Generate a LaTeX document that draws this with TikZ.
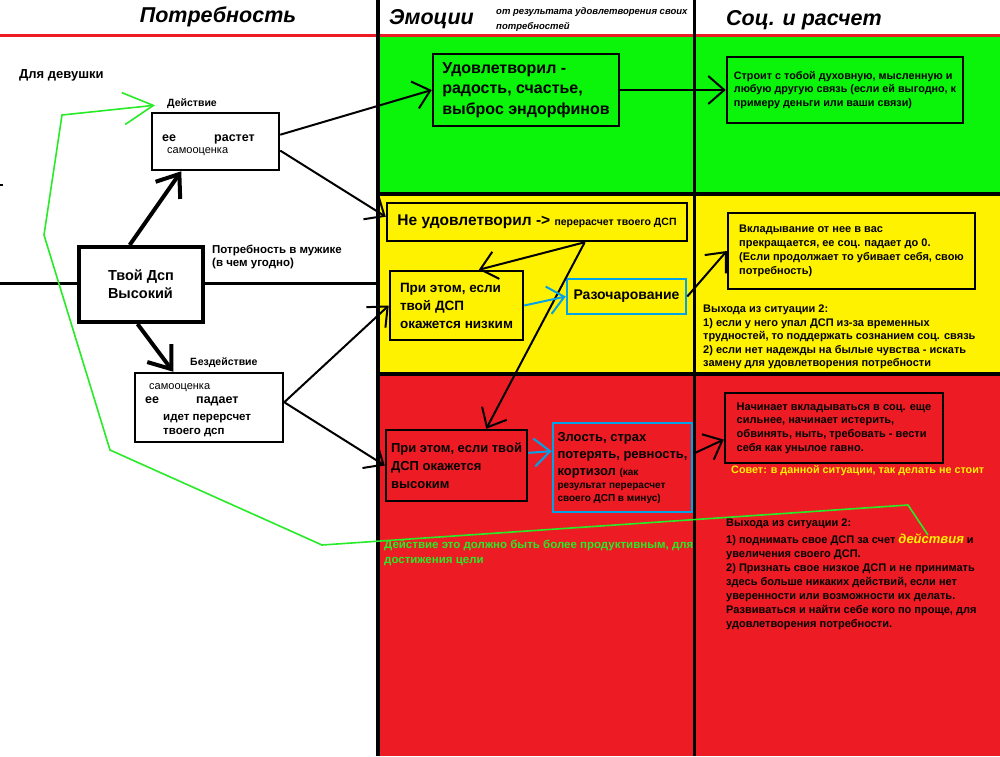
\documentclass[tikz,border=0pt]{standalone}
\usepackage{fontspec}
\setmainfont{Liberation Sans}
\usetikzlibrary{arrows.meta}
\definecolor{zelen}{RGB}{10,245,10}
\definecolor{zhelt}{RGB}{255,242,0}
\definecolor{krasn}{RGB}{237,28,36}
\definecolor{goluboj}{RGB}{0,162,232}
\definecolor{zelLin}{RGB}{40,235,40}
\newcommand{\shrift}[2]{\fontsize{#1}{#2}\selectfont}

\begin{document}
\begin{tikzpicture}[x=1pt, y=-1pt,
    kvadrat/.style={draw, line width=2.5pt, inner sep=0pt, align=left},
    sinij/.style={kvadrat, draw=goluboj},
    nadpis/.style={inner sep=0pt, align=left},
    zagolovok/.style={inner sep=0pt, font=\bfseries\itshape\shrift{21.5}{24}},
    strelka/.style={line width=2pt, -{Straight Barb[length=16pt,width=28pt]}},
    tolstaja/.style={line width=4pt, -{Straight Barb[length=20pt,width=30pt]}},
    golubaja/.style={strelka, draw=goluboj},
    zelenaja/.style={line width=1.6pt, draw=zelLin, -{Straight Barb[length=30pt,width=32pt]}},
    liniya/.style={line width=3pt}]
    \useasboundingbox (0,0) rectangle (1000,756);

    % Фон колонок
    \fill[white] (0,0) rectangle (1000,756);
    \fill[zelen] (378,36) rectangle (1000,193);
    \fill[zhelt] (378,193) rectangle (1000,374);
    \fill[krasn] (378,374) rectangle (1000,756);
    \draw[krasn, line width=3pt] (0,35) -- (1000,35);
    \draw[line width=4pt] (378,193.5) -- (1000,193.5);
    \draw[line width=4pt] (378,374) -- (1000,374);
    \draw[line width=3.5pt] (378,0) -- (378,756);
    \draw[line width=3pt] (694,0) -- (694,756);
    \draw[line width=2pt] (0,185) -- (3,185);

    % Заголовки
    \node[zagolovok] (zagPotr) at (218,17) {Потребность};
    \node[zagolovok, anchor=west] (zagEmo) at (389,19) {Эмоции};
    \node[nadpis, anchor=west, font=\bfseries\itshape\shrift{9.5}{15}] (zagEmoPod) at (496,19.5) {от результата удовлетворения своих\\потребностей};
    \node[zagolovok, anchor=west] (zagSoc) at (726,20) {Соц. и расчет};

    % Потребность
    \node[nadpis, anchor=west, font=\bfseries\shrift{13}{15}] (devushki) at (19,75) {Для девушки};
    \node[nadpis, anchor=west, font=\bfseries\shrift{10.5}{12}] (deistv) at (167,104) {Действие};
    \node[kvadrat, minimum width=127, minimum height=57] (rastet) at (215.5,141.5) {};
    \node[nadpis, anchor=base west, font=\bfseries\shrift{12.5}{14}] (ee1) at (162,141) {ее};
    \node[nadpis, anchor=base west, font=\bfseries\shrift{12.5}{14}] (rost) at (214,141) {растет};
    \node[nadpis, anchor=base west, font=\shrift{11}{13}] (samo1) at (167,153) {самооценка};

    \node[kvadrat, line width=4pt, minimum width=124, minimum height=75, font=\bfseries\shrift{14.5}{18}] (dsp) at (141,284.5) {Твой Дсп\\Высокий};
    \node[nadpis, anchor=west, font=\bfseries\shrift{11.5}{13.5}] (muzhik) at (212,257) {Потребность в мужике\\(в чем угодно)};
    \coordinate (kraiL) at (0,283);
    \coordinate (kolonka) at (378,283);
    \draw[liniya] (kraiL) -- (dsp.west |- kraiL);
    \draw[liniya] (dsp.east |- kolonka) -- (kolonka);

    \node[nadpis, anchor=west, font=\bfseries\shrift{10.5}{12}] (bezdeistv) at (190,363) {Бездействие};
    \node[kvadrat, minimum width=148, minimum height=69] (bezd) at (209,407.5) {};
    \node[nadpis, anchor=base west, font=\shrift{11}{13}] (samo2) at (149,389) {самооценка};
    \node[nadpis, anchor=base west, font=\bfseries\shrift{12.5}{14}] (ee2) at (145,403) {ее};
    \node[nadpis, anchor=base west, font=\bfseries\shrift{12.5}{14}] (padaet) at (196,403) {падает};
    \node[nadpis, anchor=west, font=\bfseries\shrift{11.5}{14}] (pereschet) at (163,426) {идет перерсчет\\твоего дсп};

    \draw[tolstaja] (dsp.106) -- (rastet.221);
    \draw[tolstaja] (dsp.265) -- (bezd.135);

    % Эмоции
    \node[kvadrat, minimum width=186, minimum height=72, font=\bfseries\shrift{16}{20.5}] (udovl) at (526,90) {Удовлетворил -\\радость, счастье,\\выброс эндорфинов};
    \node[kvadrat, minimum width=300, minimum height=38, font=\bfseries\shrift{15.5}{18}] (neudovl) at (537,222) {Не удовлетворил -> {\shrift{10.5}{12}перерасчет твоего ДСП}};
    \node[kvadrat, minimum width=133, minimum height=69, font=\bfseries\shrift{13.5}{18}] (nizk) at (456.5,305.5) {При этом, если\\твой ДСП\\окажется низким};
    \node[sinij, minimum width=119, minimum height=35, font=\bfseries\shrift{14}{16}] (razoch) at (626.5,296.5) {Разочарование};
    \node[kvadrat, minimum width=141, minimum height=71, font=\bfseries\shrift{13}{18}] (vysok) at (456.5,465.5) {При этом, если твой\\ДСП окажется\\высоким};
    \node[sinij, minimum width=139, minimum height=89, font=\bfseries\shrift{13}{17}] (zlost) at (622.5,467.5) {Злость, страх\\потерять, ревность,\\кортизол {\shrift{10}{12}(как}\\[-4pt]{\shrift{10}{12}результат перерасчет}\\[-4pt]{\shrift{10}{12}своего ДСП в минус)}};
    \node[nadpis, anchor=west, text=zelLin, font=\bfseries\shrift{11.5}{15}] (sovetZel) at (384,552.5) {Действие это должно быть более продуктивным, для\\достижения цели};

    \draw[strelka] (rastet.6) -- (udovl.west);
    \draw[strelka] (rastet.-8) -- (neudovl.178);
    \draw[strelka] (bezd.4) -- (nizk.west);
    \draw[strelka] (bezd.4) -- (vysok.west);
    \draw[strelka] (neudovl.-23) -- (nizk.58);
    \draw[strelka] (neudovl.-23) -- (vysok.51);
    \draw[golubaja] (nizk.east) -- (razoch.west);
    \draw[golubaja] (vysok.10) -- (zlost.167);

    % Соц. и расчет
    \node[kvadrat, minimum width=236, minimum height=66, font=\bfseries\shrift{10.8}{13.3}] (stroit) at (845,90) {Строит с тобой духовную, мысленную и\\любую другую связь (если ей выгодно, к\\примеру деньги или ваши связи)};
    \node[kvadrat, minimum width=247, minimum height=76, font=\bfseries\shrift{11}{13.8}] (vklad) at (851.5,251) {Вкладывание от нее в вас\\прекращается, ее соц. падает до 0.\\(Если продолжает то убивает себя, свою\\потребность)};
    \node[nadpis, anchor=west, font=\bfseries\shrift{11}{13.5}] (vyhod1) at (703,337) {Выхода из ситуации 2:\\1) если у него упал ДСП из-за временных\\трудностей, то поддержать сознанием соц. связь\\2) если нет надежды на былые чувства - искать\\замену для удовлетворения потребности};
    \node[kvadrat, minimum width=218, minimum height=70, font=\bfseries\shrift{11}{13.7}] (nach) at (834,428) {Начинает вкладываться в соц. еще\\сильнее, начинает истерить,\\обвинять, ныть, требовать - вести\\себя как унылое гавно.};
    \node[nadpis, anchor=west, text=zhelt, font=\bfseries\shrift{10.8}{13}] (sovet) at (731,471) {Совет: в данной ситуации, так делать не стоит};
    \node[nadpis, anchor=west, font=\bfseries\shrift{11}{14}] (vyhod2) at (726,574.5) {Выхода из ситуации 2:\\[3pt]1) поднимать свое ДСП за счет {\color{zhelt}\itshape\shrift{13}{14}действия} и\\увеличения своего ДСП.\\2) Признать свое низкое ДСП и не принимать\\здесь больше никаких действий, если нет\\уверенности или возможности их делать.\\Развиваться и найти себе кого по проще, для\\удовлетворения потребности.};

    \draw[strelka] (udovl.east) -- (stroit.west);
    \draw[strelka] (razoch.east) -- (vklad.west);
    \draw[strelka] (zlost.11) -- (nach.186);

    % Зеленая стрелка к действию
    \coordinate (gNach) at (928,535);
    \coordinate (g1) at (908,505);
    \coordinate (g2) at (322,545);
    \coordinate (g3) at (110,450);
    \coordinate (g4) at (44,235);
    \coordinate (g5) at (62,115);
    \draw[zelenaja, shorten >=12pt] (gNach) -- (g1) -- (g2) -- (g3) -- (g4) -- (g5) -- (deistv.west);
\end{tikzpicture}
\end{document}
